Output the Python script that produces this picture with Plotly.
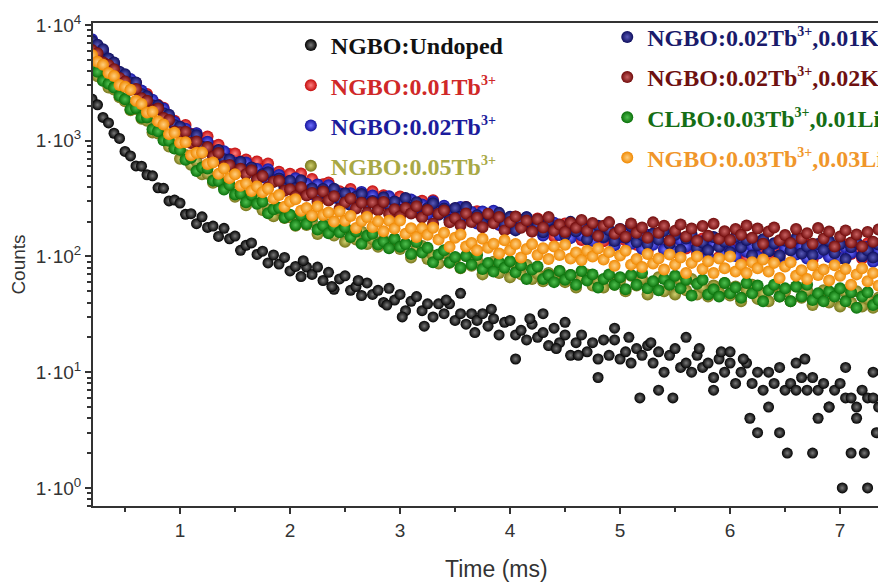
import plotly.graph_objects as go

# ---------------- data ----------------
time_ms = [
    0.20, 0.25, 0.30, 0.35, 0.40, 0.45, 0.50,
    0.55, 0.60, 0.65, 0.70, 0.75, 0.80, 0.85, 0.90, 0.95, 1.00,
    1.05, 1.10, 1.15, 1.20, 1.25, 1.30, 1.35, 1.40, 1.45, 1.50,
    1.55, 1.60, 1.65, 1.70, 1.75, 1.80, 1.85, 1.90, 1.95, 2.00,
    2.05, 2.10, 2.15, 2.20, 2.25, 2.30, 2.35, 2.40, 2.45, 2.50,
    2.55, 2.60, 2.65, 2.70, 2.75, 2.80, 2.85, 2.90, 2.95, 3.00,
    3.05, 3.10, 3.15, 3.20, 3.25, 3.30, 3.35, 3.40, 3.45, 3.50,
    3.55, 3.60, 3.65, 3.70, 3.75, 3.80, 3.85, 3.90, 3.95, 4.00,
    4.05, 4.10, 4.15, 4.20, 4.25, 4.30, 4.35, 4.40, 4.45, 4.50,
    4.55, 4.60, 4.65, 4.70, 4.75, 4.80, 4.85, 4.90, 4.95, 5.00,
    5.05, 5.10, 5.15, 5.20, 5.25, 5.30, 5.35, 5.40, 5.45, 5.50,
    5.55, 5.60, 5.65, 5.70, 5.75, 5.80, 5.85, 5.90, 5.95, 6.00,
    6.05, 6.10, 6.15, 6.20, 6.25, 6.30, 6.35, 6.40, 6.45, 6.50,
    6.55, 6.60, 6.65, 6.70, 6.75, 6.80, 6.85, 6.90, 6.95, 7.00,
    7.05, 7.10, 7.15, 7.20, 7.25, 7.30, 7.35, 7.40, 7.45,
]

undoped = [
    2290, 2040, 1590, 1425, 1160, 1047, 808,
    739, 605, 602, 508, 497, 392, 388, 302, 307, 289,
    231, 234, 192, 220, 178, 183, 149, 175, 142, 150,
    113, 125, 131, 104, 111, 88, 103, 86, 98, 75,
    82, 67, 81, 70, 81, 62, 73, 52, 64, 68,
    51, 55, 46, 59, 47, 51, 40, 53, 42, 47,
    34, 41, 45, 34, 39, 30, 39, 32, 39, 28,
    32, 26, 32, 28, 32, 25, 29, 21, 27, 28,
    21, 23, 19, 26, 20, 22, 17, 24, 18, 21,
    14, 18, 21, 15, 18, 13, 19, 14, 19, 13,
    15, 12, 16, 14, 17, 12, 15, 10, 14, 16,
    11, 12, 10, 14, 11, 12, 9, 13, 10, 12,
    8, 10, 12, 8, 10, 7, 10, 8, 11, 7,
    8, 7, 9, 7, 9, 7, 8, 5, 7, 8,
    6, 6, 5, 7, 6, 6, 5, 7, 6,
]
undoped_extra_t = [2.12, 2.38, 2.62, 2.88, 3.02, 3.22, 3.42, 3.55, 3.68, 3.83,
                   4.05, 4.18, 4.30, 4.42, 4.50, 4.62, 4.80, 4.95, 5.08, 5.18,
                   5.28, 5.35, 5.48, 5.60, 5.72, 5.85, 5.92, 6.00, 6.12, 6.18,
                   6.25, 6.35, 6.45, 6.52, 6.60, 6.68, 6.75, 6.80, 6.90, 7.02,
                   7.05, 7.10, 7.15, 7.22, 7.25, 7.30, 7.33, 7.40]
undoped_extra_v = [92, 55, 62, 38, 30, 25, 42, 48, 22, 35,
                   13, 29, 32, 16, 27, 14, 9, 24, 20, 6,
                   18, 7, 6, 20, 16, 7, 15, 15, 13, 4,
                   3, 5, 3, 2, 12, 13, 2, 4, 5, 1,
                   11, 2, 4, 2, 1, 10, 3, 12]

tb001 = [
    7310, 6220, 5880, 4870, 4510, 3850, 3630,
    3190, 3150, 2570, 2530, 2020, 2040, 1930, 1560, 1490, 1265,
    1370, 1147, 1152, 952, 1086, 897, 923, 719, 766, 776,
    645, 689, 572, 662, 569, 637, 510, 539, 469, 519,
    467, 520, 421, 467, 363, 420, 436, 348, 366, 318,
    383, 328, 350, 294, 366, 308, 338, 267, 304, 330,
    267, 302, 240, 303, 253, 306, 232, 258, 219, 260,
    232, 267, 213, 246, 186, 226, 240, 188, 203, 176,
    220, 184, 200, 164, 213, 175, 196, 149, 175, 193,
    154, 175, 139, 177, 148, 179, 135, 151, 128, 153,
    137, 163, 126, 151, 111, 140, 151, 115, 127, 109,
    142, 117, 130, 105, 143, 116, 134, 99, 120, 136,
    107, 125, 98, 132, 110, 138, 103, 119, 101, 126,
    113, 135, 106, 127, 94, 119, 131, 100, 112, 97,
    126, 105, 117, 96, 130, 106, 123, 92, 112,
]

tb002 = [
    7510, 6320, 6040, 5080, 4670, 3830, 3590,
    3420, 2780, 2710, 2200, 2260, 1880, 1900, 1510, 1450, 1220,
    1270, 1110, 1160, 933, 978, 758, 822, 812, 646, 646,
    566, 647, 554, 571, 484, 567, 480, 506, 405, 442,
    475, 385, 425, 345, 418, 355, 413, 322, 350, 300,
    351, 318, 360, 296, 336, 266, 313, 331, 269, 288,
    249, 311, 260, 281, 231, 298, 246, 274, 208, 244,
    268, 213, 242, 193, 245, 205, 248, 188, 210, 179,
    212, 189, 218, 173, 200, 152, 184, 196, 153, 166,
    144, 181, 152, 165, 136, 177, 146, 164, 125, 147,
    166, 129, 150, 116, 154, 126, 157, 115, 132, 111,
    137, 122, 145, 113, 135, 100, 127, 138, 106, 117,
    101, 132, 110, 123, 100, 136, 111, 128, 96, 117,
    132, 104, 122, 96, 127, 106, 133, 99, 114, 97,
    119, 107, 129, 100, 121, 90, 113, 124, 96,
]

tb005 = [
    4270, 3600, 3320, 2880, 2770, 2370, 2190,
    1830, 1880, 1550, 1490, 1180, 1155, 1100, 890, 860, 697,
    753, 620, 666, 512, 519, 433, 459, 397, 411, 328,
    350, 277, 307, 310, 252, 256, 223, 253, 215, 218,
    184, 225, 187, 202, 156, 176, 189, 152, 168, 134,
    165, 140, 164, 128, 141, 121, 140, 125, 142, 116,
    129, 98, 117, 123, 95, 102, 87, 107, 88, 95,
    79, 101, 83, 93, 70, 83, 90, 72, 83, 66,
    85, 70, 85, 64, 71, 61, 72, 65, 75, 60,
    69, 54, 65, 70, 56, 61, 54, 67, 57, 62,
    50, 68, 56, 64, 47, 58, 66, 50, 60, 47,
    62, 51, 64, 47, 54, 45, 56, 49, 59, 46,
    55, 41, 51, 57, 43, 48, 41, 55, 45, 50,
    41, 55, 44, 51, 38, 46, 51, 40, 47, 37,
    49, 40, 50, 37, 43, 36, 44, 39, 46,
]

tb002_k001 = [
    7250, 6740, 6170, 5130, 4730, 3940, 3750,
    3190, 3190, 2530, 2420, 2020, 2010, 1730, 1680, 1365, 1320,
    1047, 1132, 1117, 885, 884, 751, 831, 690, 688, 563,
    658, 557, 587, 470, 513, 534, 442, 471, 391, 452,
    389, 455, 355, 387, 333, 383, 343, 385, 313, 352,
    278, 328, 347, 282, 302, 267, 324, 278, 298, 252,
    320, 263, 294, 223, 261, 288, 229, 259, 207, 262,
    220, 267, 202, 227, 193, 231, 206, 238, 190, 220,
    168, 204, 218, 172, 186, 162, 203, 171, 185, 153,
    199, 165, 185, 141, 167, 184, 148, 169, 136, 173,
    145, 182, 133, 154, 128, 158, 140, 166, 129, 154,
    114, 143, 155, 119, 132, 113, 147, 121, 134, 109,
    148, 120, 139, 102, 125, 141, 111, 130, 102, 137,
    113, 143, 106, 122, 103, 128, 114, 136, 107, 128,
    95, 120, 132, 101, 113, 98, 127, 106, 118,
]

tb002_k002 = [
    6050, 5700, 4750, 4520, 4150, 3490, 3240,
    2750, 2800, 2330, 2210, 1830, 1900, 1575, 1510, 1200, 1185,
    1196, 956, 984, 787, 878, 726, 783, 605, 616, 519,
    572, 514, 555, 459, 495, 397, 443, 450, 369, 380,
    331, 396, 336, 354, 296, 364, 305, 331, 258, 292,
    317, 260, 291, 238, 293, 251, 296, 233, 256, 222,
    262, 235, 272, 217, 252, 192, 234, 250, 197, 214,
    186, 235, 198, 216, 179, 234, 194, 219, 168, 198,
    221, 177, 204, 164, 210, 178, 219, 167, 189, 163,
    196, 177, 207, 167, 195, 150, 184, 198, 157, 172,
    148, 193, 160, 178, 145, 197, 160, 184, 137, 167,
    189, 149, 174, 137, 183, 151, 192, 142, 165, 139,
    173, 154, 185, 145, 174, 129, 164, 178, 138, 153,
    131, 173, 143, 159, 129, 176, 143, 164, 122, 149,
    168, 132, 155, 122, 163, 134, 171, 126, 146,
]

clbo_tb003_li001 = [
    4230, 3940, 3290, 3100, 2880, 2440, 2280,
    1870, 1920, 1590, 1590, 1256, 1205, 1008, 998, 856, 834,
    686, 712, 547, 588, 575, 452, 449, 378, 416, 343,
    350, 294, 340, 285, 299, 236, 256, 264, 217, 229,
    187, 226, 191, 220, 171, 185, 159, 181, 162, 179,
    147, 164, 129, 151, 157, 127, 135, 118, 142, 121,
    128, 105, 133, 108, 119, 89, 104, 113, 89, 99,
    80, 101, 85, 103, 78, 88, 74, 89, 80, 91,
    73, 84, 64, 77, 82, 64, 69, 60, 75, 63,
    69, 57, 75, 62, 70, 54, 64, 70, 57, 66,
    52, 69, 57, 72, 53, 61, 51, 64, 57, 68,
    53, 63, 46, 58, 63, 47, 52, 45, 59, 48,
    54, 44, 59, 48, 56, 41, 51, 57, 45, 53,
    41, 55, 45, 57, 42, 48, 41, 50, 45, 53,
    41, 49, 36, 45, 49, 38, 42, 35, 46,
]

tb003_li003 = [
    5490, 4800, 4530, 3840, 3620, 3030, 2920,
    2750, 2210, 2080, 1750, 1780, 1470, 1380, 1140, 1170, 961,
    970, 747, 786, 789, 630, 647, 517, 576, 475, 513,
    408, 427, 367, 402, 359, 385, 316, 339, 269, 298,
    312, 248, 262, 226, 270, 228, 240, 200, 245, 203,
    224, 176, 202, 219, 180, 201, 165, 203, 174, 204,
    157, 175, 147, 175, 154, 177, 140, 160, 121, 145,
    155, 122, 131, 113, 142, 119, 129, 106, 138, 113,
    128, 98, 116, 128, 103, 118, 95, 122, 103, 126,
    96, 108, 93, 112, 100, 117, 94, 109, 83, 102,
    112, 85, 95, 81, 105, 87, 96, 77, 104, 85,
    98, 72, 88, 100, 78, 91, 72, 96, 79, 100,
    74, 85, 72, 89, 79, 94, 74, 88, 65, 82,
    89, 68, 76, 64, 84, 69, 77, 62, 84, 68,
    78, 57, 70, 79, 61, 72, 56, 74, 61,
]

SUP = "<sup><span style='font-size:14px'>{}</span></sup>"
labels = [
    "NGBO:Undoped",
    "NGBO:0.01Tb" + SUP.format("3+"),
    "NGBO:0.02Tb" + SUP.format("3+"),
    "NGBO:0.05Tb" + SUP.format("3+"),
    "NGBO:0.02Tb" + SUP.format("3+") + ",0.01K" + SUP.format("+"),
    "NGBO:0.02Tb" + SUP.format("3+") + ",0.02K" + SUP.format("+"),
    "CLBO:0.03Tb" + SUP.format("3+") + ",0.01Li" + SUP.format("+"),
    "NGBO:0.03Tb" + SUP.format("3+") + ",0.03Li" + SUP.format("+"),
]

y_tick_vals = [1, 10, 100, 1000, 10000]
y_tick_text = ["1·10<sup>0</sup>", "1·10<sup>1</sup>", "1·10<sup>2</sup>",
               "1·10<sup>3</sup>", "1·10<sup>4</sup>"]
y_minor_vals = [0.7, 0.8, 0.9, 2, 3, 4, 5, 6, 7, 8, 9,
                20, 30, 40, 50, 60, 70, 80, 90,
                200, 300, 400, 500, 600, 700, 800, 900,
                2000, 3000, 4000, 5000, 6000, 7000, 8000, 9000]
x_tick_vals = [1, 2, 3, 4, 5, 6, 7]

# ---------------- styles ----------------
edge_colors = ["#000000", "#c40c0c", "#14149e", "#76761a", "#0e0e5e", "#700a0a", "#0a700a", "#f08800"]
center_colors = ["#7a7a7a", "#ff8080", "#7070ff", "#d0d070", "#5a5ab8", "#c86060", "#50c050", "#ffcf80"]
text_colors = ["#111111", "#d02828", "#1c1c9c", "#a8a845", "#1a1a6a", "#6e1010", "#156e15", "#f0962a"]
legend_ids = ["legend", "legend", "legend", "legend", "legend2", "legend2", "legend2", "legend2"]
marker_sizes = [11, 12, 12, 12, 12, 12, 12, 12]

series = [undoped, tb001, tb002, tb005, tb002_k001, tb002_k002, clbo_tb003_li001, tb003_li003]

fig = go.Figure()
for i, vals in enumerate(series):
    n = min(len(time_ms), len(vals))
    xs = list(time_ms[:n])
    ys = list(vals[:n])
    if i == 0:
        xs += undoped_extra_t
        ys += undoped_extra_v
    fig.add_trace(go.Scatter(
        x=xs, y=ys, mode="markers",
        name=f"<span style='color:{text_colors[i]}'><b>{labels[i]}</b></span>",
        legendgroup=f"g{i}",
        legend=legend_ids[i],
        marker=dict(size=marker_sizes[i], color=edge_colors[i],
                    gradient=dict(type="radial", color=center_colors[i]),
                    line=dict(width=0)),
    ))

axis_font = dict(family="Liberation Sans, Arial, sans-serif", size=19, color="#333333")
legend_font = dict(family="Liberation Serif, Times New Roman, serif", size=24)

# the page body adds an 8 px offset, so margins are reduced by 8 px
fig.update_layout(
    width=886, height=583,
    margin=dict(l=85, r=0, t=15, b=85, autoexpand=False),
    paper_bgcolor="white", plot_bgcolor="white",
    font=dict(family="Liberation Sans, Arial, sans-serif", color="#333333"),
    showlegend=True,
    legend=dict(x=0.247, y=1.0, xanchor="left", yanchor="top",
                bgcolor="rgba(0,0,0,0)", tracegroupgap=6, itemsizing="constant",
                font=legend_font),
    legend2=dict(x=0.642, y=1.017, xanchor="left", yanchor="top",
                 bgcolor="rgba(0,0,0,0)", tracegroupgap=6, itemsizing="constant",
                 font=legend_font),
    xaxis=dict(
        range=[0.209, 7.49], tickmode="array", tickvals=x_tick_vals,
        ticks="outside", ticklen=6, tickwidth=1.5, tickcolor="#333333",
        minor=dict(dtick=0.5, tick0=0, ticks="outside", ticklen=4, tickwidth=1.5, tickcolor="#333333"),
        showline=True, linewidth=2, linecolor="#333333", mirror=True,
        showgrid=False, zeroline=False, tickfont=axis_font, automargin=False,
    ),
    yaxis=dict(
        type="log", range=[-0.156, 4.017], tickmode="array",
        tickvals=y_tick_vals, ticktext=y_tick_text,
        ticks="outside", ticklen=6, tickwidth=1.5, tickcolor="#333333",
        minor=dict(tickmode="array", tickvals=y_minor_vals,
                   ticks="outside", ticklen=4, tickwidth=1.5, tickcolor="#333333"),
        showline=True, linewidth=2, linecolor="#333333",
        showgrid=False, zeroline=False, tickfont=axis_font, automargin=False,
        title=dict(text="Counts", font=dict(family="Liberation Sans, Arial, sans-serif", size=19, color="#333333"), standoff=10),
    ),
    annotations=[dict(
        text="Time (ms)", xref="paper", yref="paper", x=0.504, y=0,
        xanchor="center", yanchor="middle", yshift=-63, showarrow=False,
        font=dict(family="Liberation Sans, Arial, sans-serif", size=23, color="#333333"),
    )],
)

fig.write_html("out.html")
